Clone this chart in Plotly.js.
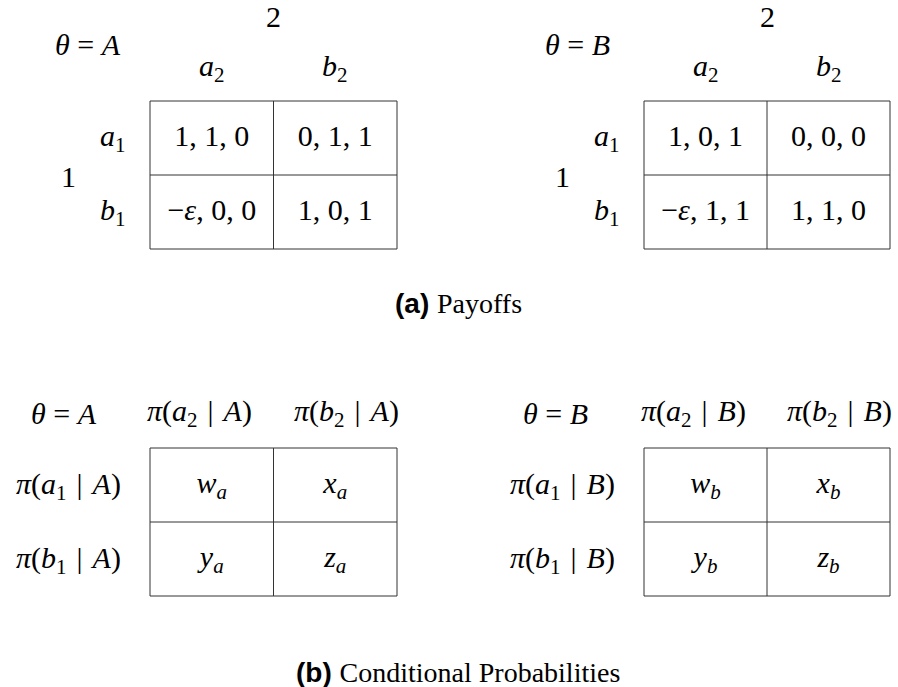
<!DOCTYPE html>
<html>
<head>
<meta charset="utf-8">
<script src="https://cdn.plot.ly/plotly-3.0.1.min.js"></script>
<style>
html,body{margin:0;padding:0;background:#fff;}
#chart{width:898px;height:687px;}
</style>
</head>
<body>
<div id="chart"></div>
<script>
// ---------- DATA ----------
const stateLabels = ['<i>θ</i>\u2005=\u2005<i>A</i>', '<i>θ</i>\u2005=\u2005<i>B</i>'];
const playerColLabel = '2';
const playerRowLabel = '1';
const payoffCols = ['<i>a</i><sub>2</sub>', '<i>b</i><sub>2</sub>'];
const payoffRows = ['<i>a</i><sub>1</sub>', '<i>b</i><sub>1</sub>'];
// cells in row-major order: [row0col0, row0col1, row1col0, row1col1]
const payoffsA = ['1, 1, 0', '0, 1, 1', '−<i>ε</i>, 0, 0', '1, 0, 1'];
const payoffsB = ['1, 0, 1', '0, 0, 0', '−<i>ε</i>, 1, 1', '1, 1, 0'];
const probColsA = ['<i>π</i>(<i>a</i><sub>2</sub>\u2004|\u2004<i>A</i>)', '<i>π</i>(<i>b</i><sub>2</sub>\u2004|\u2004<i>A</i>)'];
const probRowsA = ['<i>π</i>(<i>a</i><sub>1</sub>\u2004|\u2004<i>A</i>)', '<i>π</i>(<i>b</i><sub>1</sub>\u2004|\u2004<i>A</i>)'];
const probColsB = ['<i>π</i>(<i>a</i><sub>2</sub>\u2004|\u2004<i>B</i>)', '<i>π</i>(<i>b</i><sub>2</sub>\u2004|\u2004<i>B</i>)'];
const probRowsB = ['<i>π</i>(<i>a</i><sub>1</sub>\u2004|\u2004<i>B</i>)', '<i>π</i>(<i>b</i><sub>1</sub>\u2004|\u2004<i>B</i>)'];
const probsA = ['<i>w</i><sub><i>a</i></sub>', '<i>x</i><sub><i>a</i></sub>', '<i>y</i><sub><i>a</i></sub>', '<i>z</i><sub><i>a</i></sub>'];
const probsB = ['<i>w</i><sub><i>b</i></sub>', '<i>x</i><sub><i>b</i></sub>', '<i>y</i><sub><i>b</i></sub>', '<i>z</i><sub><i>b</i></sub>'];
const captions = ['(a)', '(b)'];
const captionTexts = ['Payoffs', 'Conditional Probabilities'];
const cellCols = [0, 1, 0, 1];
const cellRows = [0, 0, 1, 1];

// ---------- LAYOUT ----------
const W = 898, H = 687;
const SERIF = 'Liberation Serif, DejaVu Serif, serif';
const SANS = 'Liberation Sans, Arial, sans-serif';
const INK = '#000';
const LINE = '#333';
const FS = 30;

const boxes = [
  {left:150, top:101, cw:123.5, ch:74, pl:150, pr:52, pt:101, pb:21},
  {left:644, top:101, cw:123,   ch:74, pl:195, pr:8,  pt:101, pb:21},
  {left:150, top:448, cw:123.5, ch:74, pl:150, pr:52, pt:108, pb:43},
  {left:644, top:448, cw:123,   ch:74, pl:195, pr:8,  pt:108, pb:43}
];

const layout = {
  width: W, height: H,
  margin: {l:0, r:0, t:0, b:0},
  paper_bgcolor: '#fff', plot_bgcolor: '#fff',
  showlegend: false,
  shapes: [], annotations: []
};

boxes.forEach((b, i) => {
  const n = i === 0 ? '' : String(i + 1);
  const x0p = b.left - b.pl, x1p = b.left + 2 * b.cw + b.pr;
  const y0p = b.top - b.pt, y1p = b.top + 2 * b.ch + b.pb;
  layout['xaxis' + n] = {
    domain: [x0p / W, x1p / W], anchor: 'y' + n,
    range: [-0.5 - b.pl / b.cw, 1.5 + b.pr / b.cw],
    visible: false, fixedrange: true
  };
  layout['yaxis' + n] = {
    domain: [1 - y1p / H, 1 - y0p / H], anchor: 'x' + n,
    range: [1.5 + b.pb / b.ch, -0.5 - b.pt / b.ch],
    visible: false, fixedrange: true
  };
  const xr = 'x' + n, yr = 'y' + n;
  const ln = {color: LINE, width: 1};
  layout.shapes.push({type:'rect', xref:xr, yref:yr, x0:-0.5, x1:1.5, y0:-0.5, y1:1.5, line:ln});
  layout.shapes.push({type:'line', xref:xr, yref:yr, x0:0.5, x1:0.5, y0:-0.5, y1:1.5, line:ln});
  layout.shapes.push({type:'line', xref:xr, yref:yr, x0:-0.5, x1:1.5, y0:0.5, y1:0.5, line:ln});
});

function ann(text, xr, yr, x, y, opts) {
  layout.annotations.push(Object.assign({
    text: text, xref: xr, yref: yr, x: x, y: y, showarrow: false,
    xanchor: 'center', yanchor: 'middle',
    font: {family: SERIF, size: FS, color: INK}
  }, opts || {}));
}

// Payoff tables (top)
[0, 1].forEach(t => {
  const n = t === 0 ? '' : '2';
  const xr = 'x' + n, yr = 'y' + n;
  ann(playerColLabel, xr, yr, 0.5, -1.64);
  ann(stateLabels[t], xr, yr, t === 0 ? -1.0 : -1.04, -1.27);
  payoffCols.forEach((c, j) => ann(c, xr, yr, j, -0.95));
  payoffRows.forEach((r, j) => ann(r, xr, yr, -0.8, j));
  ann(playerRowLabel, xr, yr, -1.16, 0.52);
});

// Probability tables (bottom)
[[probColsA, probRowsA, stateLabels[0], '3'], [probColsB, probRowsB, stateLabels[1], '4']].forEach(([cols, rows, st, n]) => {
  const xr = 'x' + n, yr = 'y' + n;
  ann(st, xr, yr, n === '3' ? -1.2 : -1.22, -0.97);
  ann(cols[0], xr, yr, -0.1, -0.97);
  ann(cols[1], xr, yr, 1.09, -0.97);
  rows.forEach((r, j) => ann(r, xr, yr, -0.72, j + 0.02, {xanchor: 'right'}));
});

// Captions
function caption(i, yPix) {
  ann('<b>' + captions[i] + '</b> <span style="font-family:' + SERIF + '">' + captionTexts[i] + '</span>',
      'paper', 'paper', 458 / W, 1 - yPix / H,
      {font: {family: SANS, size: 28, color: INK}});
}
caption(0, 303);
caption(1, 672);

// Cell contents as text traces
function cellTrace(vals, n) {
  return {
    type: 'scatter', mode: 'text',
    x: cellCols, y: cellRows, text: vals,
    textposition: 'middle center',
    textfont: {family: SERIF, size: FS, color: INK},
    xaxis: 'x' + n, yaxis: 'y' + n,
    hoverinfo: 'skip', cliponaxis: false
  };
}
const data = [
  cellTrace(payoffsA, ''),
  cellTrace(payoffsB, '2'),
  cellTrace(probsA, '3'),
  cellTrace(probsB, '4')
];

Plotly.newPlot('chart', data, layout, {staticPlot: true, displayModeBar: false});
</script>
</body>
</html>
